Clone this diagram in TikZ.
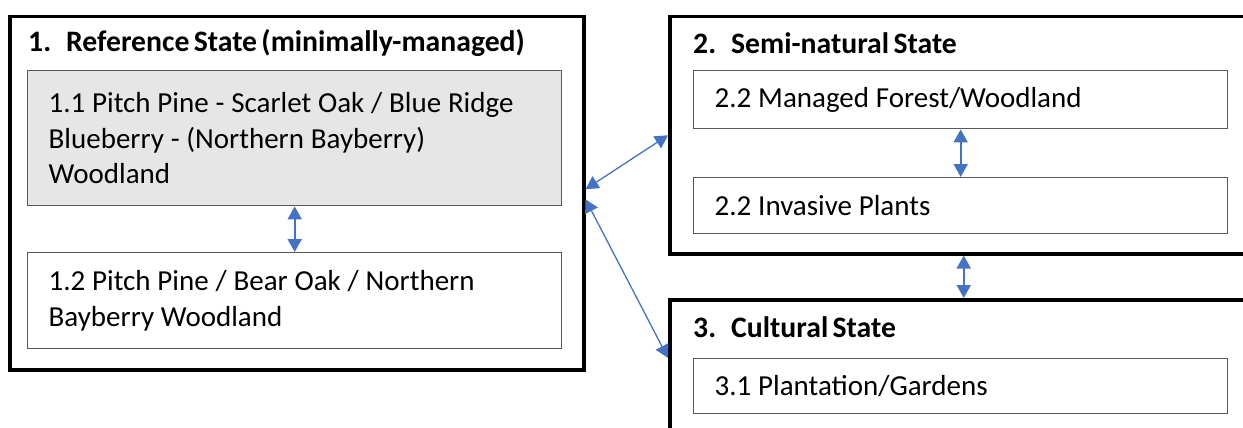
\documentclass[tikz,border=0pt]{standalone}
\usepackage{fontspec}
\setmainfont[WordSpace=0.65]{Carlito}
\usepackage{tikz}
\usetikzlibrary{arrows.meta}
\definecolor{arrowblue}{HTML}{4472C4}
\definecolor{boxgray}{HTML}{E6E6E6}
\newcommand{\bigtext}{\fontsize{29}{35.5}\selectfont}
\newcommand{\numgap}{\hspace{15pt}}
\tikzstyle{statebox}=[draw, line width=3.5pt, anchor=north west, inner sep=0pt]
\tikzstyle{phasebox}=[draw=black!65, line width=1.4pt, anchor=north west, text width=492pt, inner xsep=21pt, align=left, execute at begin node={\spaceskip=6.8pt plus 1pt\relax}]
\tikzstyle{title}=[anchor=west, font=\fontsize{29.7}{36}\selectfont\bfseries, inner sep=0pt]
\tikzstyle{link}=[arrowblue, line width=1.8pt, {Triangle[length=13pt,width=14pt]}-{Triangle[length=13pt,width=14pt]}]

\begin{document}
\begin{tikzpicture}[x=1pt, y=-1pt, font=\bigtext]
  \useasboundingbox (0,0) rectangle (1243,428);
  \clip (0,0) rectangle (1243,428);
  % state 1
  \node[statebox, minimum width=574pt, minimum height=353pt] (ref) at (8,15) {};
  \node[title] (reft) at (28,43) {1.\numgap Reference State (minimally-managed)};
  \node[phasebox, fill=boxgray, minimum height=135pt] (pp11) at (27,70)
    {1.1 Pitch Pine - Scarlet Oak / Blue Ridge\\Blueberry - (Northern Bayberry)\\Woodland};
  \node[phasebox, minimum height=96pt] (pp12) at (27,252)
    {1.2 Pitch Pine / Bear Oak / Northern\\Bayberry Woodland};
  % state 2
  \node[statebox, minimum width=588pt, minimum height=237pt] (semi) at (668,15) {};
  \node[title] (semit) at (693,43) {2.\numgap Semi-natural State};
  \node[phasebox, minimum height=58pt] (mf) at (693,70) {2.2 Managed Forest/Woodland};
  \node[phasebox, minimum height=56pt] (inv) at (693,177) {2.2 Invasive Plants};
  % state 3
  \node[statebox, minimum width=588pt, minimum height=160pt] (cult) at (668,298) {};
  \node[title] (cultt) at (693,327) {3.\numgap Cultural State};
  \node[phasebox, minimum height=55pt] (pg) at (693,358) {3.1 Plantation/Gardens};
  % transitions
  \draw[link] (pp11) -- (pp12);
  \draw[link] (mf) -- (inv);
  \draw[link] (semi.south) -- (cult.north);
  \draw[link, line width=1.3pt] ([yshift=4pt]ref.east) -- (semi.west);
  \draw[link, line width=1.3pt] ([yshift=-6pt]ref.east) -- ([yshift=-60pt]cult.north west);
\end{tikzpicture}
\end{document}
